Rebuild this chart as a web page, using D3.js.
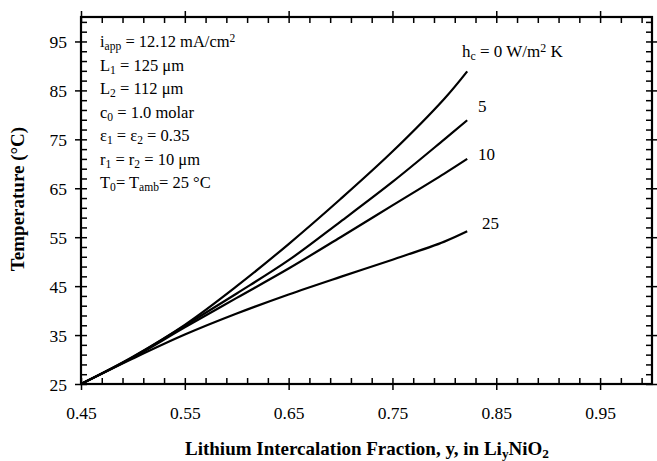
<!DOCTYPE html>
<html>
<head>
<meta charset="utf-8">
<script src="https://cdn.jsdelivr.net/npm/d3@7"></script>
<style>
    body { margin: 0; background: #fff; }
    svg text { font-family: "Liberation Serif", "Times New Roman", serif; fill: #000; }
</style>
</head>
<body>
<svg id="chart"></svg>
<script>
// lithium fraction y where the curves were read
const fractions = [0.45, 0.50, 0.55, 0.60, 0.65, 0.70, 0.75, 0.80, 0.822]

// temperature (°C) for each heat transfer coefficient h_c
const tempH0 = [25, 30.6, 37.1, 45.0, 53.6, 62.8, 72.5, 83.3, 88.9]
const tempH5 = [25, 30.5, 36.9, 43.5, 50.3, 58.2, 66.3, 75.0, 78.9]
const tempH10 = [25, 30.4, 36.6, 42.6, 48.6, 55.0, 61.5, 68.0, 71.0]
const tempH25 = [25, 30.2, 35.1, 39.4, 43.3, 46.9, 50.4, 54.1, 56.2]

const hcValues = ["0", "5", "10", "25"]

const xMajorTicks = [0.45, 0.55, 0.65, 0.75, 0.85, 0.95]
const yMajorTicks = [25, 35, 45, 55, 65, 75, 85, 95]

const width = 657
const height = 461
const margins = {left: 81, right: 5, top: 17, bottom: 77}

const svg = d3.select("#chart").attr("width", width).attr("height", height)

const scaleX = d3.scaleLinear().domain([0.45, 1.0]).range([margins.left, width - margins.right])
const scaleY = d3.scaleLinear().domain([25, 100]).range([height - margins.bottom, margins.top])

const xAllTicks = d3.range(0, 28).map(i => +(0.45 + i * 0.02).toFixed(2)).filter(d => d < 1.0)
const yAllTicks = d3.range(25, 100, 2)

// rich text helper: parts are [text, "sub" | "sup" | undefined]
function richText(sel, parts, size) {
    parts.forEach(([t, kind]) => {
        let ts = sel.append("tspan").text(t)
        if (kind === "sub") ts.attr("baseline-shift", "-22%").attr("font-size", size * 0.7)
        if (kind === "sup") ts.attr("baseline-shift", "40%").attr("font-size", size * 0.7)
    })
}

function drawAxes() {
    const bottom = height - margins.bottom
    const right = width - margins.right

    // inward ticks, every 0.02 / every 2 degrees
    svg.append("g").attr("transform", `translate(0, ${bottom})`)
        .call(d3.axisBottom(scaleX).tickValues(xAllTicks).tickSize(-6).tickFormat(""))
    svg.append("g").attr("transform", `translate(0, ${margins.top})`)
        .call(d3.axisTop(scaleX).tickValues(xAllTicks).tickSize(-6).tickFormat(""))
    svg.append("g").attr("transform", `translate(${margins.left}, 0)`)
        .call(d3.axisLeft(scaleY).tickValues(yAllTicks).tickSize(-6).tickFormat(""))
    svg.append("g").attr("transform", `translate(${right}, 0)`)
        .call(d3.axisRight(scaleY).tickValues(yAllTicks).tickSize(-6).tickFormat(""))

    // outward major ticks with labels
    svg.append("g").attr("class", "x-major").attr("transform", `translate(0, ${bottom})`)
        .call(d3.axisBottom(scaleX).tickValues(xMajorTicks).tickSize(6).tickPadding(17).tickFormat(d3.format(".2f")))
    svg.append("g").attr("transform", `translate(0, ${margins.top})`)
        .call(d3.axisTop(scaleX).tickValues(xMajorTicks).tickSize(6).tickFormat(""))
    let yAxis = svg.append("g").attr("class", "y-major").attr("transform", `translate(${margins.left}, 0)`)
        .call(d3.axisLeft(scaleY).tickValues(yMajorTicks).tickSize(6).tickPadding(8).tickFormat(d3.format("d")))
    svg.append("g").attr("transform", `translate(${right}, 0)`)
        .call(d3.axisRight(scaleY).tickValues(yMajorTicks).tickSize(6).tickFormat(""))

    svg.selectAll(".domain").remove()
    svg.selectAll(".tick line").attr("stroke", "#000").attr("stroke-width", 1.5)
    svg.selectAll(".tick text").attr("font-size", 17.5).attr("font-family", "Liberation Serif, serif").attr("fill", "#000")
    yAxis.selectAll(".tick text").attr("dy", "0.36em")

    // frame
    svg.append("rect")
        .attr("x", margins.left).attr("y", margins.top)
        .attr("width", right - margins.left).attr("height", bottom - margins.top)
        .attr("fill", "none").attr("stroke", "#000").attr("stroke-width", 2.2)
}

function drawLines() {
    const series = [tempH0, tempH5, tempH10, tempH25]
    const lineGenerator = d3.line()
        .x((d, i) => scaleX(fractions[i]))
        .y(d => scaleY(d))
        .curve(d3.curveCatmullRom.alpha(0.5))

    svg.append("g").selectAll("path")
        .data(series)
        .join("path")
        .attr("d", d => lineGenerator(d))
        .attr("fill", "none")
        .attr("stroke", "#000")
        .attr("stroke-width", 2.2)
}

function drawLabels() {
    // curve labels near line ends
    const labelPos = [[462, 57], [478, 112], [478, 160], [482, 229]]
    hcValues.forEach((v, i) => {
        let t = svg.append("text").attr("x", labelPos[i][0]).attr("y", labelPos[i][1]).attr("font-size", 17)
        if (i === 0) richText(t, [["h"], ["c", "sub"], [" = 0 W/m"], ["2", "sup"], [" K"]], 17)
        else t.text(v)
    })

    // parameter block
    const params = [
        [["i"], ["app", "sub"], [" = 12.12 mA/cm"], ["2", "sup"]],
        [["L"], ["1", "sub"], [" = 125 \u03bcm"]],
        [["L"], ["2", "sub"], [" = 112 \u03bcm"]],
        [["c"], ["0", "sub"], [" = 1.0 molar"]],
        [["\u03b5"], ["1", "sub"], [" = \u03b5"], ["2", "sub"], [" = 0.35"]],
        [["r"], ["1", "sub"], [" = r"], ["2", "sub"], [" = 10 \u03bcm"]],
        [["T"], ["0", "sub"], ["= T"], ["amb", "sub"], ["= 25 \u00b0C"]]
    ]
    params.forEach((p, i) => {
        let t = svg.append("text").attr("x", 100).attr("y", 47 + i * 23.5).attr("font-size", 16.5)
        richText(t, p, 16.5)
    })

    // axis titles
    let xt = svg.append("text").attr("x", 367).attr("y", 455)
        .attr("text-anchor", "middle").attr("font-size", 19).attr("font-weight", "bold")
    richText(xt, [["Lithium Intercalation Fraction, y, in Li"], ["y", "sub"], ["NiO"], ["2", "sub"]], 19)

    svg.append("text").text("Temperature (\u00b0C)")
        .attr("transform", "translate(24, 199) rotate(-90)")
        .attr("text-anchor", "middle").attr("font-size", 19).attr("font-weight", "bold")
}

drawAxes()
drawLines()
drawLabels()
</script>
</body>
</html>
